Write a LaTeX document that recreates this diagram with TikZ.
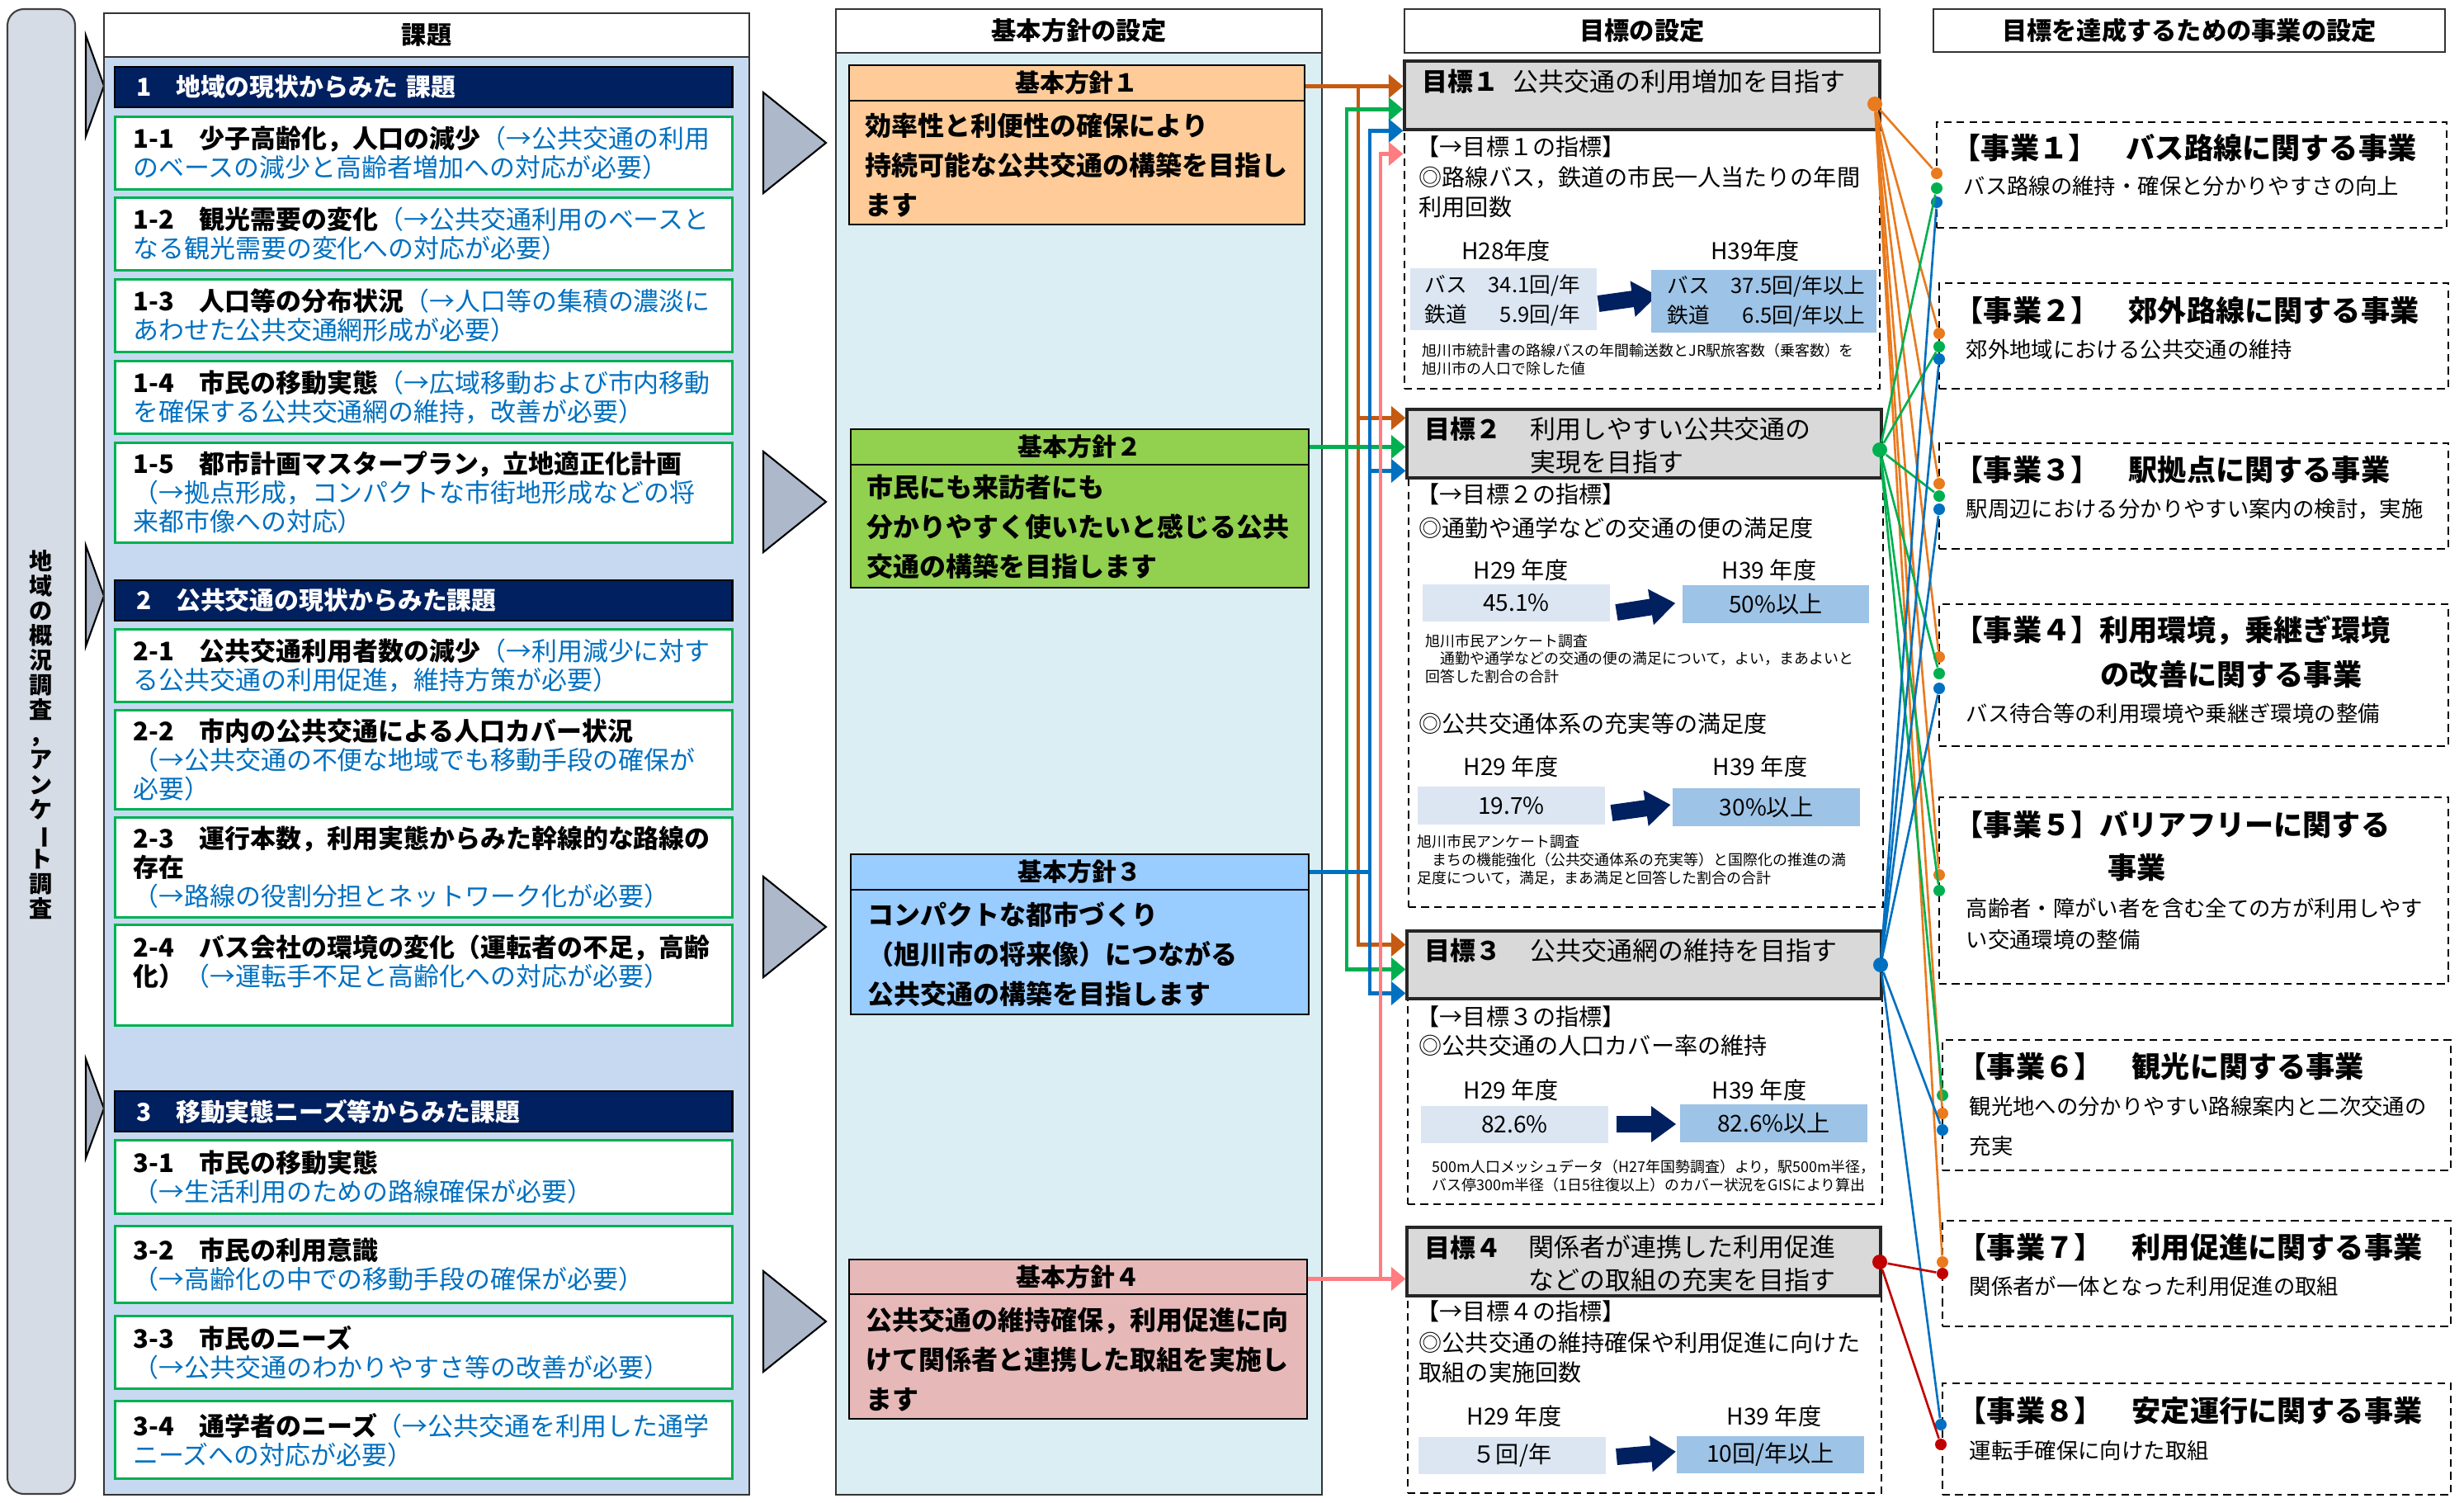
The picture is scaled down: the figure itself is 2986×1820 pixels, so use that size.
\documentclass[tikz,border=0pt]{standalone}
\usepackage{fontspec}
\usepackage{graphicx}
\setmainfont{Noto Sans CJK JP}
\usetikzlibrary{arrows.meta,calc,fit}

\definecolor{navy}{HTML}{002060}
\definecolor{kgreen}{HTML}{00B050}
\definecolor{kblue}{HTML}{0070C0}
\definecolor{kpanel}{HTML}{C6D9F1}
\definecolor{sidegray}{HTML}{D6DCE5}
\definecolor{trigray}{HTML}{ADB9CA}
\definecolor{hpanel}{HTML}{DAEEF3}
\definecolor{hone}{HTML}{FFCC99}
\definecolor{htwo}{HTML}{92D050}
\definecolor{hthree}{HTML}{99CCFF}
\definecolor{hfour}{HTML}{E6B9B8}
\definecolor{goalgray}{HTML}{D9D9D9}
\definecolor{valold}{HTML}{DCE6F2}
\definecolor{valnew}{HTML}{9DC3E6}
\definecolor{arrO}{HTML}{C55A11}
\definecolor{arrP}{HTML}{FF7C80}
\definecolor{lineO}{HTML}{E97A1D}
\definecolor{lineR}{HTML}{C00000}

\newcommand{\fs}[2]{\fontsize{#1}{#2}\selectfont}
\newcommand{\fatarrow}[3]{\fill[navy, rotate around={#3:(#1,#2)}] (#1,#2) ++(0,-10) -- ++(42,0) -- ++(0,-12) -- ++(30,22) -- ++(-30,22) -- ++(0,-12) -- ++(-42,0) -- cycle;}

\tikzset{
  sidebox/.style={draw=black!75, fill=sidegray, rounded corners=0.2cm, line width=0.6pt},
  sidetext/.style={font=\bfseries\fs{8pt}{8.55pt}, align=center, inner sep=0pt},
  chevron/.style={draw=black, fill=trigray, line width=0.6pt},
  panel/.style={draw=black!80, line width=0.6pt, inner sep=0pt},
  headbar/.style={draw=black!80, fill=white, line width=0.6pt, inner sep=0pt},
  headtext/.style={inner sep=0pt, font=\bfseries\fs{8.6pt}{10pt}},
  section/.style={draw=black, line width=0.6pt, fill=navy, text=white, font=\bfseries\fs{8.5pt}{10pt}, anchor=north west, minimum height=0.49cm, text width=6.96cm, inner xsep=0.26cm, inner ysep=0pt, align=left},
  issue/.style={draw=kgreen, line width=0.8pt, fill=white, font=\fs{8.8pt}{9.96pt}, anchor=north west, text width=7.04cm, inner xsep=0.22cm, inner ysep=0pt, align=left},
  policy/.style={draw=black, line width=0.6pt, inner sep=0pt},
  policyhead/.style={inner sep=0pt, font=\bfseries\fs{8.5pt}{10pt}},
  policytext/.style={anchor=west, inner sep=0pt, align=left, font=\bfseries\fs{9.1pt}{13.66pt}},
  goalhead/.style={draw=black!85, fill=goalgray, line width=0.9pt, inner sep=0pt},
  goallabel/.style={anchor=west, inner sep=0pt, font=\bfseries\fs{8.8pt}{11.4pt}},
  goaltitle/.style={anchor=west, inner sep=0pt, align=left, font=\fs{8.8pt}{11.4pt}},
  dashbox/.style={draw=black, dash pattern=on 2.6pt off 1.8pt, line width=0.6pt, inner sep=0pt},
  gtext/.style={anchor=west, inner sep=0pt, align=left, font=\fs{8pt}{10.24pt}},
  gyear/.style={inner sep=0pt, font=\fs{8pt}{10pt}},
  gnote/.style={anchor=west, inner sep=0pt, align=left, font=\fs{5.1pt}{6.2pt}},
  oldval/.style={fill=valold, inner sep=0pt},
  newval/.style={fill=valnew, inner sep=0pt},
  valnum/.style={inner sep=0pt, font=\fs{8pt}{10.24pt}},
  valtext/.style={anchor=west, inner sep=0pt, align=left, font=\fs{7.3pt}{10.24pt}},
  projtitle/.style={anchor=west, inner sep=0pt, font=\bfseries\fs{10pt}{15pt}},
  projtext/.style={anchor=west, inner sep=0pt, align=left, font=\fs{7.5pt}{10.8pt}},
  arr/.style={line width=1.4pt, -{Triangle[length=5pt,width=8pt]}},
  dot/.style={circle, inner sep=0pt, minimum size=0.14cm},
  bigdot/.style={circle, inner sep=0pt, minimum size=0.18cm},
  link/.style={line width=0.75pt},
}

\begin{document}
\begin{tikzpicture}[x=0.01cm, y=-0.01cm]
		%%%%% START %%%%%
		\useasboundingbox (0,0) rectangle (2986,1820);
		
		\draw[sidebox] (9,11) rectangle (91,1810);
		\node[sidetext] (side) at (50,890) {地\\域\\の\\概\\況\\調\\査\\，\\ア\\ン\\ケ\\\rotatebox[origin=c]{-90}{ー}\\ト\\調\\査};
		\draw[chevron] (104,43) -- (126,104) -- (104,165) -- cycle;
		\draw[chevron] (104,661) -- (126,722) -- (104,783) -- cycle;
		\draw[chevron] (104,1283) -- (126,1343) -- (104,1403) -- cycle;
		
		\node[panel, fill=kpanel, fit={(126,16) (908,1811)}] (kpan) {};
		\node[headbar, fit={(126,16) (908,69)}] (kttl) {};
		\node[headtext] at (kttl.center) {課題};
		
		\node[section] (s1) at (138,80) {1　地域の現状からみた 課題};
		\node[issue, minimum height=0.88cm] (k11) at (138,140) {\textbf{1-1　少子高齢化，人口の減少}\color{kblue}（→公共交通の利用\\のベースの減少と高齢者増加への対応が必要）};
		\node[issue, minimum height=0.88cm] (k12) at (138,238) {\textbf{1-2　観光需要の変化}\color{kblue}（→公共交通利用のベースと\\なる観光需要の変化への対応が必要）};
		\node[issue, minimum height=0.88cm] (k13) at (138,337) {\textbf{1-3　人口等の分布状況}\color{kblue}（→人口等の集積の濃淡に\\あわせた公共交通網形成が必要）};
		\node[issue, minimum height=0.88cm] (k14) at (138,436) {\textbf{1-4　市民の移動実態}\color{kblue}（→広域移動および市内移動\\を確保する公共交通網の維持，改善が必要）};
		\node[issue, minimum height=1.21cm] (k15) at (138,535) {\textbf{1-5　都市計画マスタープラン，立地適正化計画}\\\color{kblue}（→拠点形成，コンパクトな市街地形成などの将\\来都市像への対応）};
		
		\node[section] (s2) at (138,702) {2　公共交通の現状からみた課題};
		\node[issue, minimum height=0.88cm] (k21) at (138,761) {\textbf{2-1　公共交通利用者数の減少}\color{kblue}（→利用減少に対す\\る公共交通の利用促進，維持方策が必要）};
		\node[issue, minimum height=1.20cm] (k22) at (138,859) {\textbf{2-2　市内の公共交通による人口カバー状況}\\\color{kblue}（→公共交通の不便な地域でも移動手段の確保が\\必要）};
		\node[issue, minimum height=1.21cm] (k23) at (138,989) {\textbf{2-3　運行本数，利用実態からみた幹線的な路線の}\\\textbf{存在}\\\color{kblue}（→路線の役割分担とネットワーク化が必要）};
		\node[issue, minimum height=1.22cm] (k24) at (138,1119) {\bfseries 2-4　バス会社の環境の変化（運転者の不足，高齢\\化）\mdseries\color{kblue}（→運転手不足と高齢化への対応が必要）\\\mbox{}};
		
		\node[section] (s3) at (138,1321) {3　移動実態ニーズ等からみた課題};
		\node[issue, minimum height=0.89cm] (k31) at (138,1380) {\textbf{3-1　市民の移動実態}\\\color{kblue}（→生活利用のための路線確保が必要）};
		\node[issue, minimum height=0.93cm] (k32) at (138,1484) {\textbf{3-2　市民の利用意識}\\\color{kblue}（→高齢化の中での移動手段の確保が必要）};
		\node[issue, minimum height=0.88cm] (k33) at (138,1593) {\textbf{3-3　市民のニーズ}\\\color{kblue}（→公共交通のわかりやすさ等の改善が必要）};
		\node[issue, minimum height=0.94cm] (k34) at (138,1696) {\textbf{3-4　通学者のニーズ}\color{kblue}（→公共交通を利用した通学\\ニーズへの対応が必要）};
		
		\draw[chevron] (925,112) -- (1001,173) -- (925,234) -- cycle;
		\draw[chevron] (925,547) -- (1001,608) -- (925,669) -- cycle;
		\draw[chevron] (925,1062) -- (1001,1123) -- (925,1184) -- cycle;
		\draw[chevron] (925,1540) -- (1001,1601) -- (925,1662) -- cycle;
		
		\node[panel, fill=hpanel, fit={(1013,11) (1602,1811)}] (hpan) {};
		\node[headbar, fit={(1013,11) (1602,64)}] (httl) {};
		\node[headtext] at (httl.center) {基本方針の設定};
		
		\node[policy, fill=hone, fit={(1029,79) (1581,272)}] (h1) {};
		\node[policy, fill=hone, fit={(1029,79) (1581,122)}] (h1t) {};
		\node[policyhead] at (h1t.center) {基本方針１};
		\node[policytext] (h1b) at (1048,200) {効率性と利便性の確保により\\持続可能な公共交通の構築を目指し\\ます};
		
		\node[policy, fill=htwo, fit={(1031,520) (1586,712)}] (h2) {};
		\node[policy, fill=htwo, fit={(1031,520) (1586,563)}] (h2t) {};
		\node[policyhead] at (h2t.center) {基本方針２};
		\node[policytext] (h2b) at (1050,638) {市民にも来訪者にも\\分かりやすく使いたいと感じる公共\\交通の構築を目指します};
		
		\node[policy, fill=hthree, fit={(1031,1035) (1586,1229)}] (h3) {};
		\node[policy, fill=hthree, fit={(1031,1035) (1586,1078)}] (h3t) {};
		\node[policyhead] at (h3t.center) {基本方針３};
		\node[policytext] (h3b) at (1051,1156) {コンパクトな都市づくり\\（旭川市の将来像）につながる\\公共交通の構築を目指します};
		
		\node[policy, fill=hfour, fit={(1029,1526) (1584,1719)}] (h4) {};
		\node[policy, fill=hfour, fit={(1029,1526) (1584,1568)}] (h4t) {};
		\node[policyhead] at (h4t.center) {基本方針４};
		\node[policytext] (h4b) at (1049,1647) {公共交通の維持確保，利用促進に向\\けて関係者と連携した取組を実施し\\ます};
		
		\node[headbar, fit={(1702,11) (2278,64)}] (gttl) {};
		\node[headtext] at (gttl.center) {目標の設定};
		
		\node[dashbox, fit={(1702,157) (2278,471)}] (g1i) {};
		\node[goalhead, fit={(1702,74) (2278,157)}] (g1) {};
		\node[goallabel] (g1l) at (1723,99) {目標１};
		\node[goaltitle] (g1n) at (1833,99) {公共交通の利用増加を目指す};
		\node[gtext] (g1k) at (1716,178) {【→目標１の指標】};
		\node[gtext] (g1q) at (1719,233) {◎路線バス，鉄道の市民一人当たりの年間\\利用回数};
		\node[gyear] (g1y0) at (1825,304) {H28年度};
		\node[gyear] (g1y1) at (2127,304) {H39年度};
		\node[oldval, fit={(1709,325) (1935,400)}] (g1a) {};
		\node[valtext] at (1726,364) {バス　34.1回/年\\鉄道　\phantom{3}5.9回/年};
		\fatarrow{1937}{368}{8}
		\node[newval, fit={(2001,327) (2274,403)}] (g1b) {};
		\node[valtext] at (2020,365) {バス　37.5回/年以上\\鉄道　\phantom{3}6.5回/年以上};
		\node[gnote] at (1723,436) {旭川市統計書の路線バスの年間輸送数とJR駅旅客数（乗客数）を\\旭川市の人口で除した値};
		
		\node[dashbox, fit={(1707,579) (2282,1099)}] (g2i) {};
		\node[goalhead, fit={(1705,496) (2280,579)}] (g2) {};
		\node[goallabel] (g2l) at (1726,520) {目標２};
		\node[goaltitle] (g2n) at (1854,540) {利用しやすい公共交通の\\実現を目指す};
		\node[gtext] (g2k) at (1716,599) {【→目標２の指標】};
		\node[gtext] (g2q) at (1719,640) {◎通勤や通学などの交通の便の満足度};
		\node[gyear] at (1843,691) {H29 年度};
		\node[gyear] at (2144,691) {H39 年度};
		\node[oldval, fit={(1724,708) (1951,753)}] (g2a) {};
		\node[valnum] at (g2a.center) {45.1\%};
		\fatarrow{1959}{742}{9}
		\node[newval, fit={(2039,709) (2265,755)}] (g2b) {};
		\node[valnum] at (g2b.center) {50\%以上};
		\node[gnote] at (1727,798) {旭川市民アンケート調査\\　通勤や通学などの交通の便の満足について，よい，まあよいと\\回答した割合の合計};
		\node[gtext] (g2r) at (1719,877) {◎公共交通体系の充実等の満足度};
		\node[gyear] at (1831,929) {H29 年度};
		\node[gyear] at (2133,929) {H39 年度};
		\node[oldval, fit={(1718,953) (1945,999)}] (g2c) {};
		\node[valnum] at (g2c.center) {19.7\%};
		\fatarrow{1953}{985}{8}
		\node[newval, fit={(2027,955) (2254,1001)}] (g2d) {};
		\node[valnum] at (g2d.center) {30\%以上};
		\node[gnote] at (1717,1042) {旭川市民アンケート調査\\　まちの機能強化（公共交通体系の充実等）と国際化の推進の満\\足度について，満足，まあ満足と回答した割合の合計};
		
		\node[dashbox, fit={(1706,1210) (2281,1459)}] (g3i) {};
		\node[goalhead, fit={(1705,1128) (2280,1210)}] (g3) {};
		\node[goallabel] (g3l) at (1726,1152) {目標３};
		\node[goaltitle] (g3n) at (1854,1152) {公共交通網の維持を目指す};
		\node[gtext] (g3k) at (1716,1232) {【→目標３の指標】};
		\node[gtext] (g3q) at (1719,1267) {◎公共交通の人口カバー率の維持};
		\node[gyear] at (1831,1321) {H29 年度};
		\node[gyear] at (2132,1321) {H39 年度};
		\node[oldval, fit={(1722,1340) (1949,1385)}] (g3a) {};
		\node[valnum] at (g3a.center) {82.6\%};
		\fatarrow{1959}{1362}{0}
		\node[newval, fit={(2036,1338) (2263,1384)}] (g3b) {};
		\node[valnum] at (g3b.center) {82.6\%以上};
		\node[gnote] at (1735,1425) {500m人口メッシュデータ（H27年国勢調査）より，駅500m半径，\\バス停300m半径（1日5往復以上）のカバー状況をGISにより算出};
		
		\node[dashbox, fit={(1706,1570) (2280,1809)}] (g4i) {};
		\node[goalhead, fit={(1705,1487) (2279,1570)}] (g4) {};
		\node[goallabel] (g4l) at (1726,1512) {目標４};
		\node[goaltitle] (g4n) at (1852,1531) {関係者が連携した利用促進\\などの取組の充実を目指す};
		\node[gtext] (g4k) at (1716,1589) {【→目標４の指標】};
		\node[gtext] (g4q) at (1719,1645) {◎公共交通の維持確保や利用促進に向けた\\取組の実施回数};
		\node[gyear] at (1835,1716) {H29 年度};
		\node[gyear] at (2150,1716) {H39 年度};
		\node[oldval, fit={(1719,1741) (1946,1786)}] (g4a) {};
		\node[valnum] at (g4a.center) {５回/年};
		\fatarrow{1959}{1765}{5}
		\node[newval, fit={(2032,1740) (2259,1785)}] (g4b) {};
		\node[valnum] at (g4b.center) {10回/年以上};
		
		% policy -> goal arrows
		\coordinate (tG) at (1632,0);
		\coordinate (tO) at (1646,0);
		\coordinate (tB) at (1660,0);
		\coordinate (tP) at (1673,0);
		\coordinate (o1) at ($(g1.north west)+(0,32)$);
		\coordinate (n1) at ($(g1.north west)+(0,60)$);
		\coordinate (b1) at ($(g1.north west)+(0,86)$);
		\coordinate (q1) at ($(g1.north west)+(0,114)$);
		\coordinate (o2) at ($(g2.north west)+(0,12)$);
		\coordinate (n2) at ($(g2.north west)+(0,47)$);
		\coordinate (b2) at ($(g2.north west)+(0,76)$);
		\coordinate (o3) at ($(g3.north west)+(0,18)$);
		\coordinate (n3) at ($(g3.north west)+(0,48)$);
		\coordinate (b3) at ($(g3.north west)+(0,77)$);
		\coordinate (q4) at ($(g4.north west)+(0,64)$);
		
		\draw[arr, arrO] (h1t.east |- o1) -- (o1);
		\draw[arr, arrO] (tO |- o1) |- (o2);
		\draw[arr, arrO] (tO |- o2) |- (o3);
		\draw[arr, kgreen] (h2t.east |- n2) -- (n2);
		\draw[arr, kgreen] (tG |- n2) |- (n1);
		\draw[arr, kgreen] (tG |- n2) |- (n3);
		\draw[line width=1.4pt, kblue] (h3t.east) -- (tB |- h3t.east);
		\draw[arr, kblue] (tB |- h3t.east) |- (b1);
		\draw[arr, kblue] (tB |- b2) -- (b2);
		\draw[arr, kblue] (tB |- h3t.east) |- (b3);
		\draw[arr, arrP] (h4t.east |- q4) -- (q4);
		\draw[arr, arrP] (tP |- q4) |- (q1);
		
		\node[headbar, fit={(2343,11) (2963,63)}] (pttl) {};
		\node[headtext] at (pttl.center) {目標を達成するための事業の設定};
		
		\node[dashbox, fit={(2347,148) (2965,276)}] (p1) {};
		\node[projtitle] at (2365,179) {【事業１】　バス路線に関する事業};
		\node[projtext] at (2379,226) {バス路線の維持・確保と分かりやすさの向上};
		
		\node[dashbox, fit={(2350,343) (2967,471)}] (p2) {};
		\node[projtitle] at (2368,376) {【事業２】　郊外路線に関する事業};
		\node[projtext] at (2382,424) {郊外地域における公共交通の維持};
		
		\node[dashbox, fit={(2350,537) (2967,665)}] (p3) {};
		\node[projtitle] at (2368,569) {【事業３】　駅拠点に関する事業};
		\node[projtext] at (2382,617) {駅周辺における分かりやすい案内の検討，実施};
		
		\node[dashbox, fit={(2350,732) (2967,904)}] (p4) {};
		\node[projtitle] at (2368,764) {【事業４】利用環境，乗継ぎ環境};
		\node[projtitle] at (2545,817) {の改善に関する事業};
		\node[projtext] at (2382,864) {バス待合等の利用環境や乗継ぎ環境の整備};
		
		\node[dashbox, fit={(2350,966) (2967,1192)}] (p5) {};
		\node[projtitle] at (2368,999) {【事業５】バリアフリーに関する};
		\node[projtitle] at (2554,1051) {事業};
		\node[projtext] at (2382,1119) {高齢者・障がい者を含む全ての方が利用しやす\\い交通環境の整備};
		
		\node[dashbox, fit={(2354,1260) (2970,1418)}] (p6) {};
		\node[projtitle] at (2372,1292) {【事業６】　観光に関する事業};
		\node[projtext, font=\fs{7.5pt}{13.66pt}] at (2386,1364) {観光地への分かりやすい路線案内と二次交通の\\充実};
		
		\node[dashbox, fit={(2354,1479) (2970,1607)}] (p7) {};
		\node[projtitle] at (2372,1511) {【事業７】　利用促進に関する事業};
		\node[projtext] at (2386,1558) {関係者が一体となった利用促進の取組};
		
		\node[dashbox, fit={(2354,1676) (2970,1811)}] (p8) {};
		\node[projtitle] at (2372,1709) {【事業８】　安定運行に関する事業};
		\node[projtext] at (2386,1757) {運転手確保に向けた取組};
		
		% goal -> project links
		\node[bigdot, fill=lineO] (d1) at (2272,126) {};
		\node[bigdot, fill=kgreen] (d2) at (2278,545) {};
		\node[bigdot, fill=kblue] (d3) at (2279,1169) {};
		\node[bigdot, fill=lineR] (d4) at (2278,1529) {};
		
		\node[dot, fill=lineO] (p1o) at (2347,210) {};
		\node[dot, fill=kgreen] (p1g) at (2347,228) {};
		\node[dot, fill=kblue] (p1b) at (2347,245) {};
		\node[dot, fill=lineO] (p2o) at (2350,404) {};
		\node[dot, fill=kgreen] (p2g) at (2350,420) {};
		\node[dot, fill=kblue] (p2b) at (2350,435) {};
		\node[dot, fill=lineO] (p3o) at (2350,586) {};
		\node[dot, fill=kgreen] (p3g) at (2350,601) {};
		\node[dot, fill=kblue] (p3b) at (2350,617) {};
		\node[dot, fill=lineO] (p4o) at (2350,796) {};
		\node[dot, fill=kgreen] (p4g) at (2350,816) {};
		\node[dot, fill=kblue] (p4b) at (2350,834) {};
		\node[dot, fill=lineO] (p5o) at (2350,1060) {};
		\node[dot, fill=kgreen] (p5g) at (2350,1079) {};
		\node[dot, fill=kgreen] (p6g) at (2354,1327) {};
		\node[dot, fill=lineO] (p6o) at (2354,1349) {};
		\node[dot, fill=kblue] (p6b) at (2354,1369) {};
		\node[dot, fill=lineO] (p7o) at (2354,1529) {};
		\node[dot, fill=lineR] (p7r) at (2354,1543) {};
		\node[dot, fill=kblue] (p8b) at (2352,1726) {};
		\node[dot, fill=lineR] (p8r) at (2352,1750) {};
		
		\draw[link, lineO] (d1) -- (p1o);
		\draw[link, lineO] (d1) -- (p2o);
		\draw[link, lineO] (d1) -- (p3o);
		\draw[link, lineO] (d1) -- (p4o);
		\draw[link, lineO] (d1) -- (p5o);
		\draw[link, lineO] (d1) -- (p6o);
		\draw[link, lineO] (d1) -- (p7o);
		\draw[link, kgreen] (d2) -- (p1g);
		\draw[link, kgreen] (d2) -- (p2g);
		\draw[link, kgreen] (d2) -- (p3g);
		\draw[link, kgreen] (d2) -- (p4g);
		\draw[link, kgreen] (d2) -- (p5g);
		\draw[link, kgreen] (d2) -- (p6g);
		\draw[link, kblue] (d3) -- (p1b);
		\draw[link, kblue] (d3) -- (p2b);
		\draw[link, kblue] (d3) -- (p3b);
		\draw[link, kblue] (d3) -- (p4b);
		\draw[link, kblue] (d3) -- (p6b);
		\draw[link, kblue] (d3) -- (p8b);
		\draw[link, lineR] (d4) -- (p7r);
		\draw[link, lineR] (d4) -- (p8r);
		
		%%%%% END %%%%%
\end{tikzpicture}
\end{document}
